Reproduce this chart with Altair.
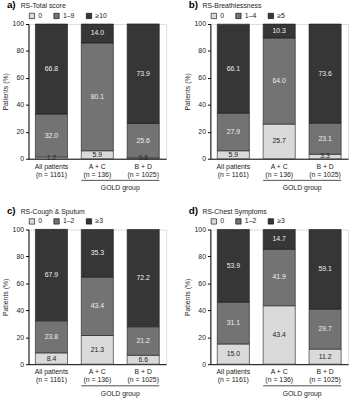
import altair as alt
import pandas as pd

groups = ["All patients|(n = 1161)", "A + C|(n = 136)", "B + D|(n = 1025)"]
letters = ["a)", "b)", "c)", "d)"]
titles = ["RS-Total score", "RS-Breathlessness", "RS-Cough & Sputum", "RS-Chest Symptoms"]
levels = [["0", "1–9", "≥10"], ["0", "1–4", "≥5"], ["0", "1–2", "≥3"], ["0", "1–2", "≥3"]]
vals_low = [[1.2, 5.9, 0.6], [5.9, 25.7, 3.3], [8.4, 21.3, 6.6], [15.0, 43.4, 11.2]]
vals_mid = [[32.0, 80.1, 25.6], [27.9, 64.0, 23.1], [23.8, 43.4, 21.2], [31.1, 41.9, 29.7]]
vals_high = [[66.8, 14.0, 73.9], [66.1, 10.3, 73.6], [67.9, 35.3, 72.2], [53.9, 14.7, 59.1]]
y_ticks = [0, 20, 40, 60, 80, 100]

W, H = 140, 137
P_IN, P_OUT = 0.3, 0.15
FONT = "Liberation Sans"
COLORS = ["#dadada", "#737373", "#363636"]

X_AXIS = alt.Axis(labelExpr="split(datum.label, '|')", labelAngle=0, ticks=False,
                  labelFontSize=7, labelLineHeight=8.5, labelPadding=3.5,
                  labelBaseline="top", domainColor="#000", labelColor="#222")
Y_AXIS = alt.Axis(values=y_ticks, grid=False, tickSize=3, labelOverlap=False,
                  labelFontSize=7, titleFontSize=7, titleFontWeight="normal",
                  titlePadding=4, domainColor="#000", tickColor="#000",
                  labelColor="#222", titleColor="#222")
X_SCALE = alt.Scale(paddingInner=P_IN, paddingOuter=P_OUT)
Y_SCALE = alt.Scale(domain=[0, 100], nice=False)


def panel(i):
    rows = []
    for g_i, g in enumerate(groups):
        for o, (lv, vals) in enumerate(zip(levels[i], [vals_low[i], vals_mid[i], vals_high[i]])):
            rows.append({"group": g, "level": lv, "order": o, "value": vals[g_i]})
    df = pd.DataFrame(rows)
    base = alt.Chart(df).properties(width=W, height=H)
    one = alt.Chart(pd.DataFrame({"k": [0]})).properties(width=W, height=H)
    xenc = alt.X("group:N", sort=groups, title=None, scale=X_SCALE, axis=X_AXIS)
    bars = base.mark_bar(stroke="#1a1a1a", strokeWidth=0.6).encode(
        x=xenc,
        y=alt.Y("value:Q", stack="zero", title="Patients (%)", scale=Y_SCALE, axis=Y_AXIS),
        color=alt.Color("level:N", sort=levels[i],
                        scale=alt.Scale(domain=levels[i], range=COLORS),
                        legend=alt.Legend(title=None, orient="top", direction="horizontal",
                                          symbolType="square", symbolSize=30,
                                          symbolStrokeColor="#000", symbolStrokeWidth=0.6,
                                          labelFontSize=7, labelColor="#222", columnPadding=10,
                                          labelOffset=3, offset=4, padding=0)),
        order=alt.Order("order:Q"),
    )
    text = base.transform_stack(
        stack="value", groupby=["group"], as_=["y0", "y1"], sort=[alt.SortField("order")]
    ).transform_calculate(mid="(datum.y0 + datum.y1) / 2").mark_text(
        fontSize=7, font=FONT
    ).encode(
        x=xenc,
        y=alt.Y("mid:Q", title="Patients (%)", scale=Y_SCALE, axis=Y_AXIS),
        text=alt.Text("value:Q", format=".1f"),
        color=alt.condition("datum.order == 0", alt.value("#222"), alt.value("#eeeeee")),
    )
    step = W / (len(groups) - P_IN + 2 * P_OUT)
    x1 = step * P_OUT + step
    x2 = W - step * P_OUT
    rule = one.mark_rule(color="#000", strokeWidth=0.7).encode(
        x=alt.value(x1), x2=alt.value(x2), y=alt.value(H + 22)
    )
    gold = one.mark_text(fontSize=7, font=FONT, color="#222", baseline="top").encode(
        x=alt.value((x1 + x2) / 2), y=alt.value(H + 26), text=alt.value("GOLD group")
    )
    letter = one.mark_text(fontSize=10, font=FONT, fontWeight="bold", align="left",
                           baseline="top", color="#000").encode(
        x=alt.value(-22), y=alt.value(-24), text=alt.value(letters[i])
    )
    ttl = one.mark_text(fontSize=7, font=FONT, align="left", baseline="top",
                        color="#222").encode(
        x=alt.value(-8), y=alt.value(-22), text=alt.value(titles[i])
    )
    return alt.layer(bars, text, rule, gold, letter, ttl)


row1 = alt.hconcat(panel(0), panel(1), spacing=15).resolve_scale(color="independent")
row2 = alt.hconcat(panel(2), panel(3), spacing=15).resolve_scale(color="independent")
chart = alt.vconcat(row1, row2, spacing=13).resolve_scale(color="independent").properties(
    padding={"left": 0, "top": -4, "right": 1, "bottom": 0}
).configure_view(stroke=None).configure(font=FONT)

chart.save("out.html", embed_options={"renderer": "svg", "actions": False})
